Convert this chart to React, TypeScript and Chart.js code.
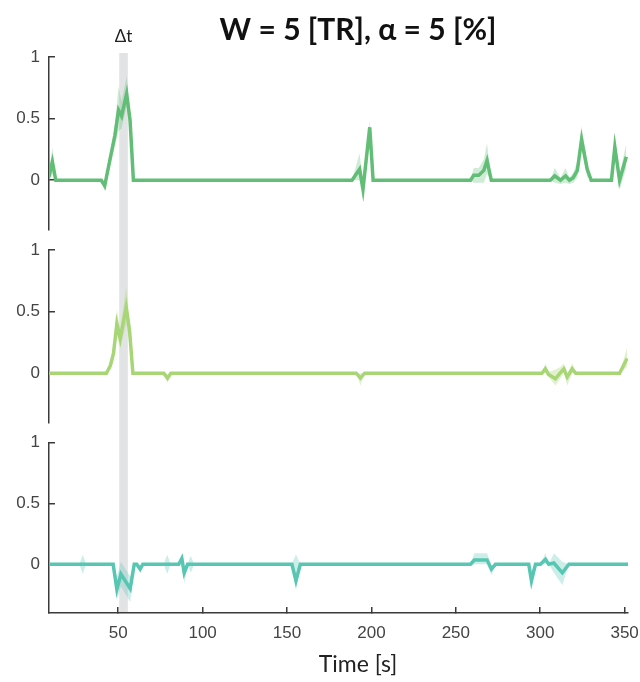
import React, { useEffect, useRef } from 'react';
import { Chart, registerables } from 'chart.js';

Chart.register(...registerables);

// ---- text ----
const chartTitle = 'W = 5 [TR], α = 5 [%]';
const xAxisTitle = 'Time [s]';
const windowLabel = 'Δt';

// ---- axes ----
const xMin = 9;
const xMax = 352;
const xTickValues = [50, 100, 150, 200, 250, 300, 350];
const yMin = -0.4;
const yMax = 1;
const yTickValues = [0, 0.5, 1];

// ---- analysis window (seconds) ----
const windowStart = 50.6;
const windowEnd = 55.7;

// ---- panel 1 (green) ----
const time1 = [9, 11, 13, 40, 42, 45, 48, 50.2, 52, 55, 57, 59, 188.5, 193, 195, 199, 201, 258.7, 260.6, 263.6, 266.6, 268.5, 271, 306, 308.6, 312, 315, 317.3, 319.5, 322, 324.5, 327.8, 330.2, 342.2, 344.2, 347, 351];
const mean1 = [0.03, 0.15, 0, 0, -0.045, 0.16, 0.36, 0.57, 0.52, 0.7, 0.49, 0, 0, 0.09, -0.075, 0.43, 0, 0, 0.04, 0.04, 0.08, 0.16, 0, 0, 0.035, 0, 0.035, 0, 0.02, 0.08, 0.33, 0.09, 0, 0, 0.27, 0, 0.19];
const upper1 = [0.06, 0.27, 0, 0, -0.01, 0.2, 0.45, 0.76, 0.64, 0.84, 0.58, 0, 0, 0.22, -0.03, 0.48, 0, 0, 0.1, 0.1, 0.17, 0.3, 0, 0, 0.1, 0.02, 0.1, 0.02, 0.06, 0.15, 0.44, 0.15, 0, 0, 0.32, 0.04, 0.3];
const lower1 = [-0.02, 0.05, 0, 0, -0.09, 0.1, 0.28, 0.4, 0.42, 0.6, 0.4, 0, 0, 0.0, -0.1, 0.38, 0, 0, -0.02, -0.02, -0.02, 0.05, 0, 0, -0.02, -0.03, -0.02, -0.03, -0.02, 0.02, 0.25, 0.03, 0, 0, 0.2, -0.08, 0.1];

// ---- panel 2 (light green) ----
const time2 = [9, 43, 45.3, 47.2, 49.2, 51.2, 54.7, 56.7, 58.7, 77, 79.2, 81.2, 191, 193.5, 196, 301, 303, 305, 309, 312, 314, 316, 319, 321, 347, 351.5];
const mean2 = [0, 0, 0.06, 0.16, 0.4, 0.28, 0.535, 0.35, 0, 0, -0.04, 0, 0, -0.04, 0, 0, 0.035, -0.01, -0.045, 0.005, 0.035, -0.03, 0.035, 0, 0, 0.12];
const upper2 = [0, 0, 0.08, 0.22, 0.52, 0.36, 0.7, 0.45, 0, 0, -0.01, 0, 0, 0, 0, 0, 0.08, 0.01, 0.03, 0.05, 0.08, 0, 0.08, 0, 0, 0.21];
const lower2 = [0, 0, 0.03, 0.1, 0.3, 0.2, 0.4, 0.25, 0, 0, -0.08, 0, 0, -0.1, 0, 0, 0, -0.03, -0.1, -0.04, 0, -0.1, 0, 0, 0, 0.05];

// ---- panel 3 (teal) ----
const time3 = [9, 27, 29, 31, 47, 49.2, 51.6, 57.1, 59.5, 61, 63, 64.6, 77, 79, 81, 85.8, 87.7, 89.1, 91.1, 93, 95, 152.9, 155.3, 157.9, 258.7, 261, 268.5, 271.1, 273.5, 293.2, 294.8, 297.2, 300.1, 303.1, 305.1, 308.1, 313.1, 317, 352];
const mean3 = [0, 0, 0, 0, 0, -0.205, -0.08, -0.2, 0, 0, -0.04, 0, 0, 0, 0, 0, 0.047, -0.07, 0, 0, 0, 0, -0.135, 0, 0, 0.035, 0.035, -0.04, 0, 0, -0.135, 0, 0, 0.04, 0, 0.01, -0.07, 0, 0];
const upper3 = [0, 0, 0.08, 0, 0, -0.1, 0.02, -0.1, 0, 0, -0.01, 0, 0, 0.08, 0, 0, 0.09, -0.02, 0, 0.07, 0, 0, 0.08, 0, 0, 0.09, 0.09, -0.01, 0, 0, -0.05, 0, 0, 0.09, 0, 0.09, 0.02, 0, 0];
const lower3 = [0, 0, -0.08, 0, 0, -0.3, -0.18, -0.31, 0, 0, -0.07, 0, 0, -0.08, 0, 0, 0, -0.16, 0, -0.07, 0, 0, -0.22, 0, 0, 0, 0, -0.09, 0, 0, -0.22, 0, 0, 0, 0, -0.07, -0.17, 0, 0];

const panelColors = ['rgb(98,190,118)', 'rgb(168,214,118)', 'rgb(88,198,178)'];
const bandColors = ['rgba(98,190,118,0.3)', 'rgba(168,214,118,0.35)', 'rgba(88,198,178,0.3)'];

const axisColor = '#3a3a3a';
const labelColor = '#444444';
const tickFont = 'Liberation Sans';
const textFont = 'Lato';

const toPoints = (xs: number[], ys: number[]) => xs.map((x, i) => ({ x, y: ys[i] }));

function panelDatasets(axisId: string, xs: number[], m: number[], u: number[], l: number[], idx: number, base: number) {
  return [
    {
      data: toPoints(xs, u),
      yAxisID: axisId,
      borderWidth: 0,
      pointRadius: 0,
      backgroundColor: bandColors[idx],
      fill: base + 1,
      order: 2,
    },
    {
      data: toPoints(xs, l),
      yAxisID: axisId,
      borderWidth: 0,
      pointRadius: 0,
      fill: false,
      order: 2,
    },
    {
      data: toPoints(xs, m),
      yAxisID: axisId,
      borderColor: panelColors[idx],
      borderWidth: 3.5,
      pointRadius: 0,
      fill: false,
      borderJoinStyle: 'miter' as const,
      order: 0,
    },
  ];
}

function panelAxis(weight: number, stackWeight: number) {
  return {
    type: 'linear' as const,
    position: 'left' as const,
    stack: 'panels',
    stackWeight,
    weight,
    min: yMin,
    max: yMax,
    afterBuildTicks: (s: any) => {
      s.ticks = yTickValues.map((v) => ({ value: v }));
    },
    afterFit: (s: any) => {
      s.width = 49;
      s.paddingTop = 0;
      s.paddingBottom = 0;
    },
    border: { display: true, color: axisColor, width: 1.5 },
    grid: { display: true, drawOnChartArea: false, drawTicks: true, tickLength: -6, color: axisColor, lineWidth: 1.5 },
    ticks: { padding: 15, color: labelColor, font: { family: tickFont, size: 17 }, callback: (v: any) => String(v) },
  };
}

function gapAxis(weight: number, stackWeight: number) {
  return {
    type: 'linear' as const,
    position: 'left' as const,
    stack: 'panels',
    stackWeight,
    weight,
    display: false,
    min: 0,
    max: 1,
  };
}

const overlayPlugin = {
  id: 'overlay',
  beforeDatasetsDraw(chart: any) {
    const { ctx, chartArea, scales } = chart;
    const a = scales.x.getPixelForValue(windowStart);
    const b = scales.x.getPixelForValue(windowEnd);
    ctx.save();
    ctx.fillStyle = 'rgb(226,227,229)';
    ctx.fillRect(a, chartArea.top - 4, b - a, chartArea.bottom - chartArea.top + 3);
    ctx.restore();
  },
  afterDraw(chart: any) {
    const { ctx, scales } = chart;
    const a = scales.x.getPixelForValue(windowStart);
    const b = scales.x.getPixelForValue(windowEnd);
    ctx.save();
    ctx.fillStyle = '#222';
    ctx.textAlign = 'center';
    ctx.textBaseline = 'middle';
    ctx.font = `17px ${textFont}`;
    ctx.fillText(windowLabel, (a + b) / 2, 37);
    ctx.font = `bold 30px ${textFont}`;
    ctx.fillStyle = '#111';
    ctx.fillText(chartTitle, 358, 30);
    ctx.font = `23px ${textFont}`;
    ctx.fillStyle = '#222';
    ctx.fillText(xAxisTitle, 358, 665);
    ctx.restore();
  },
};

export default function App() {
  const ref = useRef<HTMLCanvasElement>(null);
  useEffect(() => {
    if (!ref.current) return;
    const datasets: any[] = [
      ...panelDatasets('y1', time1, mean1, upper1, lower1, 0, 0),
      ...panelDatasets('y2', time2, mean2, upper2, lower2, 1, 3),
      ...panelDatasets('y3', time3, mean3, upper3, lower3, 2, 6),
    ];
    const chart = new Chart(ref.current, {
      type: 'line',
      data: { datasets },
      plugins: [overlayPlugin],
      options: {
        responsive: false,
        animation: false,
        layout: { padding: { top: 57, left: 0, right: 12, bottom: 0 } },
        plugins: { legend: { display: false }, tooltip: { enabled: false } },
        elements: { line: { tension: 0 } },
        scales: {
          x: {
            type: 'linear',
            position: 'bottom',
            min: xMin,
            max: xMax,
            afterBuildTicks: (s: any) => {
              s.ticks = xTickValues.map((v) => ({ value: v }));
            },
            afterFit: (s: any) => {
              s.height = 69;
              s.paddingLeft = 0;
              s.paddingRight = 0;
            },
            border: { display: true, color: axisColor, width: 1.5 },
            grid: { display: true, drawOnChartArea: false, drawTicks: true, tickLength: -6, color: axisColor, lineWidth: 1.5 },
            ticks: { padding: 16, maxRotation: 0, color: labelColor, font: { family: tickFont, size: 17 }, callback: (v: any) => String(v) },
          },
          y1: panelAxis(5, 173),
          g1: gapAxis(4, 20.5),
          y2: panelAxis(3, 173),
          g2: gapAxis(2, 20),
          y3: panelAxis(1, 171),
        } as any,
      },
    });
    return () => chart.destroy();
  }, []);
  return (
    <canvas
      ref={ref}
      width={640}
      height={682}
      style={{ position: 'fixed', left: 0, top: 0, width: 640, height: 682, display: 'block', background: '#fff' }}
    />
  );
}
